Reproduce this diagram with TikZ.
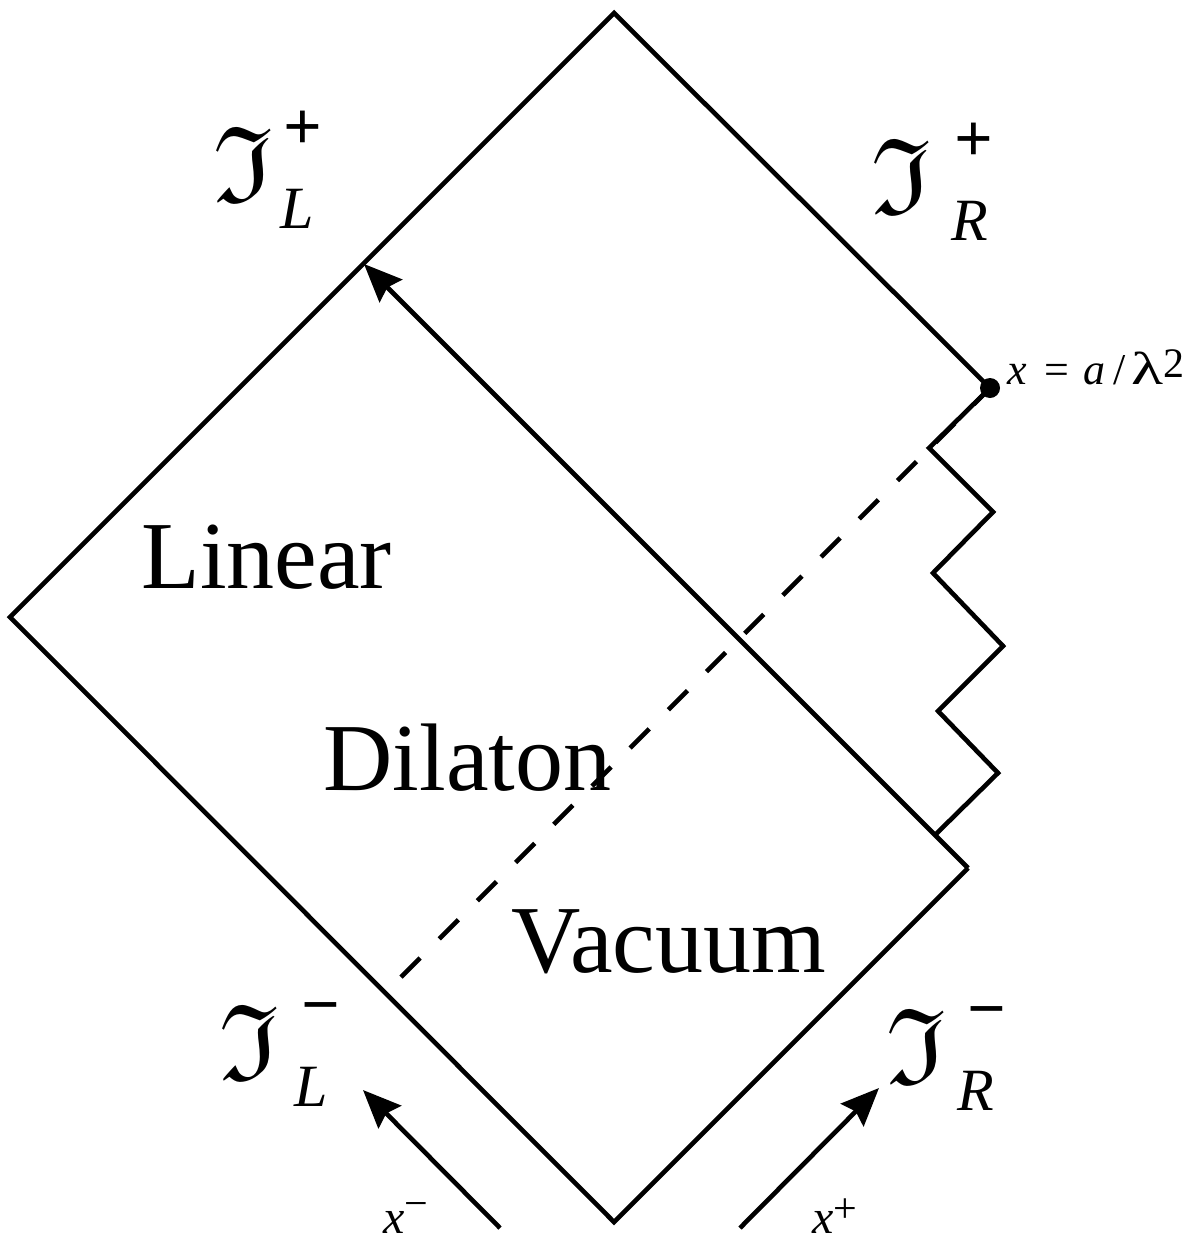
\documentclass[tikz,border=0pt]{standalone}
\usepackage{amssymb}
\usepackage{fontspec}
\setmainfont{Liberation Serif}
\usetikzlibrary{arrows.meta}
% #1 superscript, #2 subscript, #3 extra shift of superscript, #4 extra shift of subscript
\newcommand\scrilab[4]{%
  \makebox[0pt][l]{\fontsize{54}{54}\selectfont$\mathfrak{I}$}%
  \makebox[0pt][l]{\hspace{\dimexpr35pt+#3\relax}\raisebox{26pt}{\fontsize{34}{34}\selectfont\bfseries #1}}%
  \hspace{\dimexpr33.5pt+#4\relax}\raisebox{-13.5pt}{\fontsize{30}{30}\selectfont\itshape #2}}
\begin{document}
\begin{tikzpicture}[x=0.5pt,y=-0.5pt,
  edge/.style={line width=2.3pt, line join=miter},
  tipped/.style={edge, -{Stealth[length=19pt,width=16pt,inset=2.5pt]}},
  region/.style={inner sep=0pt, anchor=base west, font=\fontsize{48}{50}\selectfont},
  scri/.style={inner sep=0pt, anchor=base west},
  small/.style={inner sep=0pt, anchor=base west, font=\fontsize{24}{25}\selectfont}]
\useasboundingbox (0,0) rectangle (1202,1242);
% corners
\coordinate (T) at (614,13);
\coordinate (Lv) at (10,617);
\coordinate (B) at (614,1222);
\coordinate (Rc) at (968,868);
\coordinate (D) at (990,388);
\coordinate (A) at (364,264);
\coordinate (ds) at (401,977);
% zigzag
\coordinate (z1) at (929,448);
\coordinate (z2) at (993,512);
\coordinate (z3) at (933,573);
\coordinate (z4) at (1003,646);
\coordinate (z5) at (938,711);
\coordinate (z6) at (998,773);
\coordinate (z7) at (935,835);
% outline
\draw[edge] (Rc) -- (B) -- (Lv) -- (T) -- (D);
\draw[edge] (D) -- (z1) -- (z2) -- (z3) -- (z4) -- (z5) -- (z6) -- (z7);
\draw[tipped] (Rc) -- (A);
\draw[edge, dash pattern=on 13.5pt off 13.5pt] (ds) -- (D);
\node[circle, fill=black, inner sep=0pt, minimum size=10pt] (dot) at (D) {};
\node[inner sep=0pt, anchor=base west, font=\fontsize{22}{24}\selectfont] (xlab) at (1007,384)
  {\textit{x}\hspace{9pt}=\hspace{7pt}\textit{a}\hspace{4pt}/\hspace{3pt}\scalebox{1.5}[1.05]{λ}\raisebox{3.5pt}{\fontsize{21}{21}\selectfont 2}};
% region labels
\node[region] (lin) at (141,588) {Linear};
\node[region] (dil) at (323,790) {Dilaton};
\node[region] (vac) at (511,972) {Vacuum};
% scri labels
\node[scri] (sLp) at (213,201) {\scrilab{+}{L}{0pt}{0pt}};
\node[scri] (sRp) at (871,213) {\scrilab{+}{R}{6.5pt}{6.5pt}};
\node[scri] (sLm) at (219,1079) {\scrilab{−}{L}{6pt}{4pt}};
\node[scri] (sRm) at (886,1083) {\scrilab{−}{R}{5.5pt}{2pt}};
% light-cone coordinate arrows
\coordinate (m0) at (500,1228);
\coordinate (m1) at (363,1090);
\coordinate (p0) at (740,1228);
\coordinate (p1) at (879,1088);
\draw[tipped] (m0) -- (m1);
\draw[tipped] (p0) -- (p1);
\node[small] (xm) at (383,1233) {\textit{x}\raisebox{8pt}{\fontsize{21}{21}\selectfont −}};
\node[small] (xp) at (812,1233) {\textit{x}\raisebox{5.5pt}{\fontsize{21}{21}\selectfont +}};
\end{tikzpicture}
\end{document}
